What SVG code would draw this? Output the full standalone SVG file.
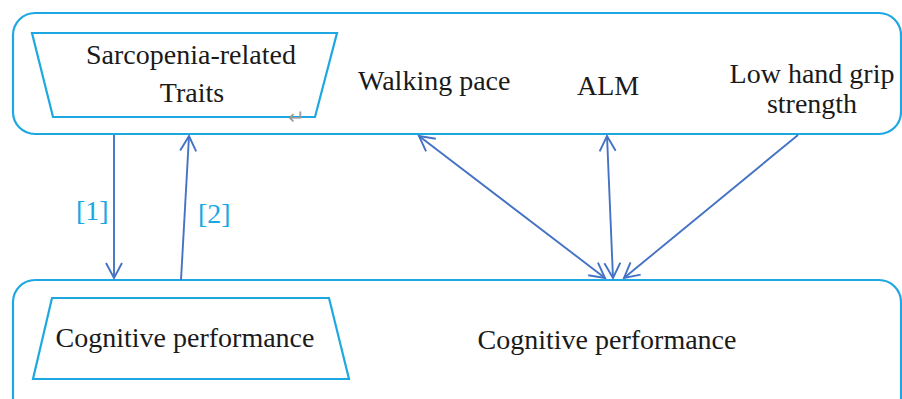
<svg xmlns="http://www.w3.org/2000/svg" width="902" height="399" viewBox="0 0 902 399">
<style>
.box{fill:none;stroke:#1EA8E2;stroke-width:2.2}
.t{font-size:28px;fill:#1a1a1a}
.lbl{font-size:28px;fill:#1AA8E2}
.ar{fill:none;stroke:#4472C4;stroke-width:1.9}
</style>
<defs>
<marker id="ah" viewBox="0 0 18 18" refX="16" refY="9" markerWidth="18" markerHeight="18" markerUnits="userSpaceOnUse" orient="auto-start-reverse">
<path d="M1,1 L16,9 L1,17" fill="none" stroke="#4472C4" stroke-width="1.9"/>
</marker>
</defs>
<rect fill="#ffffff" x="0" y="0" width="902" height="399"/>
<g font-family="Liberation Serif, Times New Roman, serif">
<g id="top-container">
<rect class="box" x="13" y="13" width="888" height="121" rx="22"/>
</g>
<g id="sarcopenia">
<polygon class="box" points="32,33 337,33 315,117 53,117"/>
<text class="t" x="191" y="64" text-anchor="middle">Sarcopenia-related</text>
<text class="t" x="192" y="102" text-anchor="middle">Traits</text>
<text x="288" y="124" font-family="DejaVu Sans, sans-serif" font-size="20" fill="#999999">↵</text>
</g>
<g id="walking">
<text class="t" x="358" y="90">Walking pace</text>
</g>
<g id="alm">
<text class="t" x="577" y="95">ALM</text>
</g>
<g id="grip">
<text class="t" x="812" y="83" text-anchor="middle">Low hand grip</text>
<text class="t" x="812" y="113" text-anchor="middle">strength</text>
</g>
<g id="bottom-container">
<rect class="box" x="13" y="280" width="888" height="150" rx="22"/>
</g>
<g id="cognitive-left">
<polygon class="box" points="52,298 329,298 349,379 33,379"/>
<text class="t" x="185" y="347" text-anchor="middle">Cognitive performance</text>
</g>
<g id="cognitive-right">
<text class="t" x="607" y="349" text-anchor="middle">Cognitive performance</text>
</g>
<g id="connectors">
<line class="ar" x1="114" y1="135" x2="114" y2="278" marker-end="url(#ah)"/>
<line class="ar" x1="181" y1="280" x2="189" y2="136" marker-end="url(#ah)"/>
<line class="ar" x1="419" y1="136" x2="605" y2="278" marker-start="url(#ah)" marker-end="url(#ah)"/>
<line class="ar" x1="607" y1="136" x2="613" y2="278" marker-start="url(#ah)" marker-end="url(#ah)"/>
<line class="ar" x1="798" y1="135" x2="624" y2="278" marker-end="url(#ah)"/>
<text class="lbl" x="76" y="220">[1]</text>
<text class="lbl" x="198" y="223">[2]</text>
</g>
</g>
</svg>
